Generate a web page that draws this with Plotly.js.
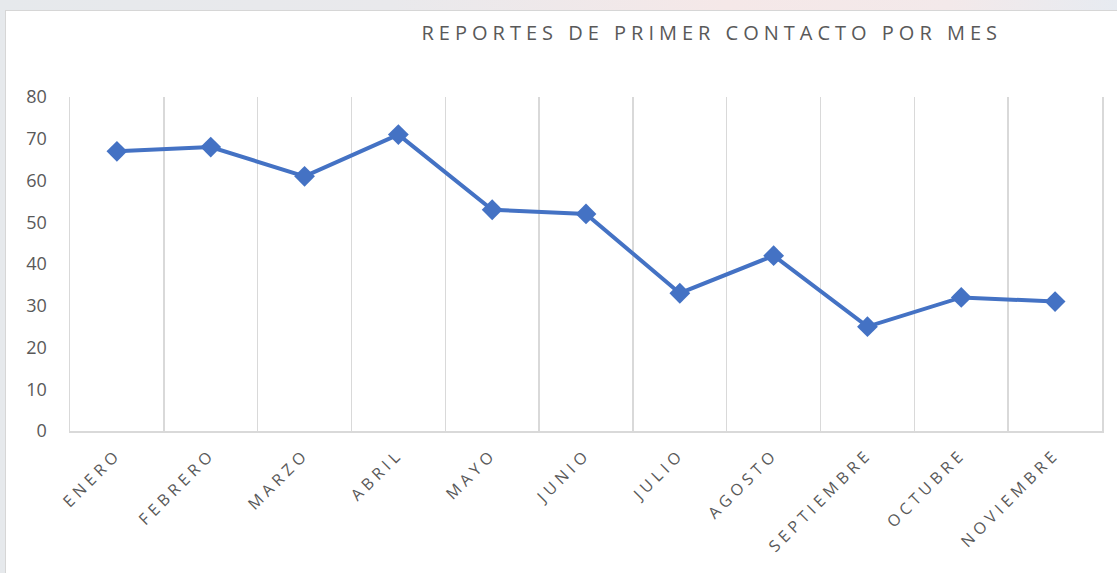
<!DOCTYPE html>
<html>
<head>
<meta charset="utf-8">
<script src="https://cdn.plot.ly/plotly-3.0.1.min.js"></script>
<style>
  html, body { margin: 0; padding: 0; width: 1117px; height: 573px; overflow: hidden; }
  body { background: linear-gradient(90deg, #e6e9ec 0%, #e9e9ec 35%, #f5e8e8 65%, #f3e9ea 85%, #e7ebf1 100%); position: relative; }
  #frame { position: absolute; left: 5px; top: 10px; width: 1112px; height: 563px; background: #fff; border-left: 1px solid #d6d6d6; border-top: 1px solid #d6d6d6; box-sizing: border-box; }
  #chart { width: 1111px; height: 562px; }
  .xtick text { letter-spacing: 4.5px; }
  .gtitle { letter-spacing: 5px; }
</style>
</head>
<body>
<div id="frame"><div id="chart"></div></div>
<script>
const months = ["ENERO", "FEBRERO", "MARZO", "ABRIL", "MAYO", "JUNIO", "JULIO", "AGOSTO", "SEPTIEMBRE", "OCTUBRE", "NOVIEMBRE"];
const reports = [67, 68, 61, 71, 53, 52, 33, 42, 25, 32, 31];
const yTicks = [0, 10, 20, 30, 40, 50, 60, 70, 80];
const chartTitle = "REPORTES DE PRIMER CONTACTO POR MES";

const trace = {
  x: months,
  y: reports,
  type: "scatter",
  mode: "lines+markers",
  line: { color: "#4472C4", width: 4 },
  marker: { symbol: "diamond", size: 16, color: "#4472C4" },
  hoverinfo: "x+y"
};

const layout = {
  width: 1111,
  height: 562,
  margin: { l: 64, r: 15, t: 86, b: 142 },
  paper_bgcolor: "#ffffff",
  plot_bgcolor: "#ffffff",
  showlegend: false,
  font: { family: "Open Sans, sans-serif", color: "#595959" },
  title: {
    text: chartTitle,
    font: { size: 20, color: "#595959", family: "Open Sans, sans-serif" },
    x: 0.374, xanchor: "left", xref: "container",
    y: 0.974, yanchor: "top", yref: "container"
  },
  xaxis: {
    type: "category",
    tickson: "boundaries",
    showgrid: true,
    gridcolor: "#d9d9d9",
    gridwidth: 1.5,
    showline: true,
    linecolor: "#d9d9d9",
    linewidth: 1.5,
    ticks: "",
    tickangle: -45,
    ticklabelstandoff: 6,
    tickfont: { size: 16, color: "#595959" },
    range: [-0.5, 10.5],
    zeroline: false
  },
  yaxis: {
    range: [0, 80],
    tickvals: yTicks,
    showgrid: false,
    zeroline: false,
    showline: true,
    mirror: true,
    linecolor: "#d9d9d9",
    linewidth: 1.5,
    ticks: "outside",
    ticklen: 18,
    tickcolor: "rgba(0,0,0,0)",
    tickfont: { size: 18, color: "#595959" }
  }
};

Plotly.newPlot("chart", [trace], layout, { displayModeBar: false, staticPlot: true });
</script>
</body>
</html>
